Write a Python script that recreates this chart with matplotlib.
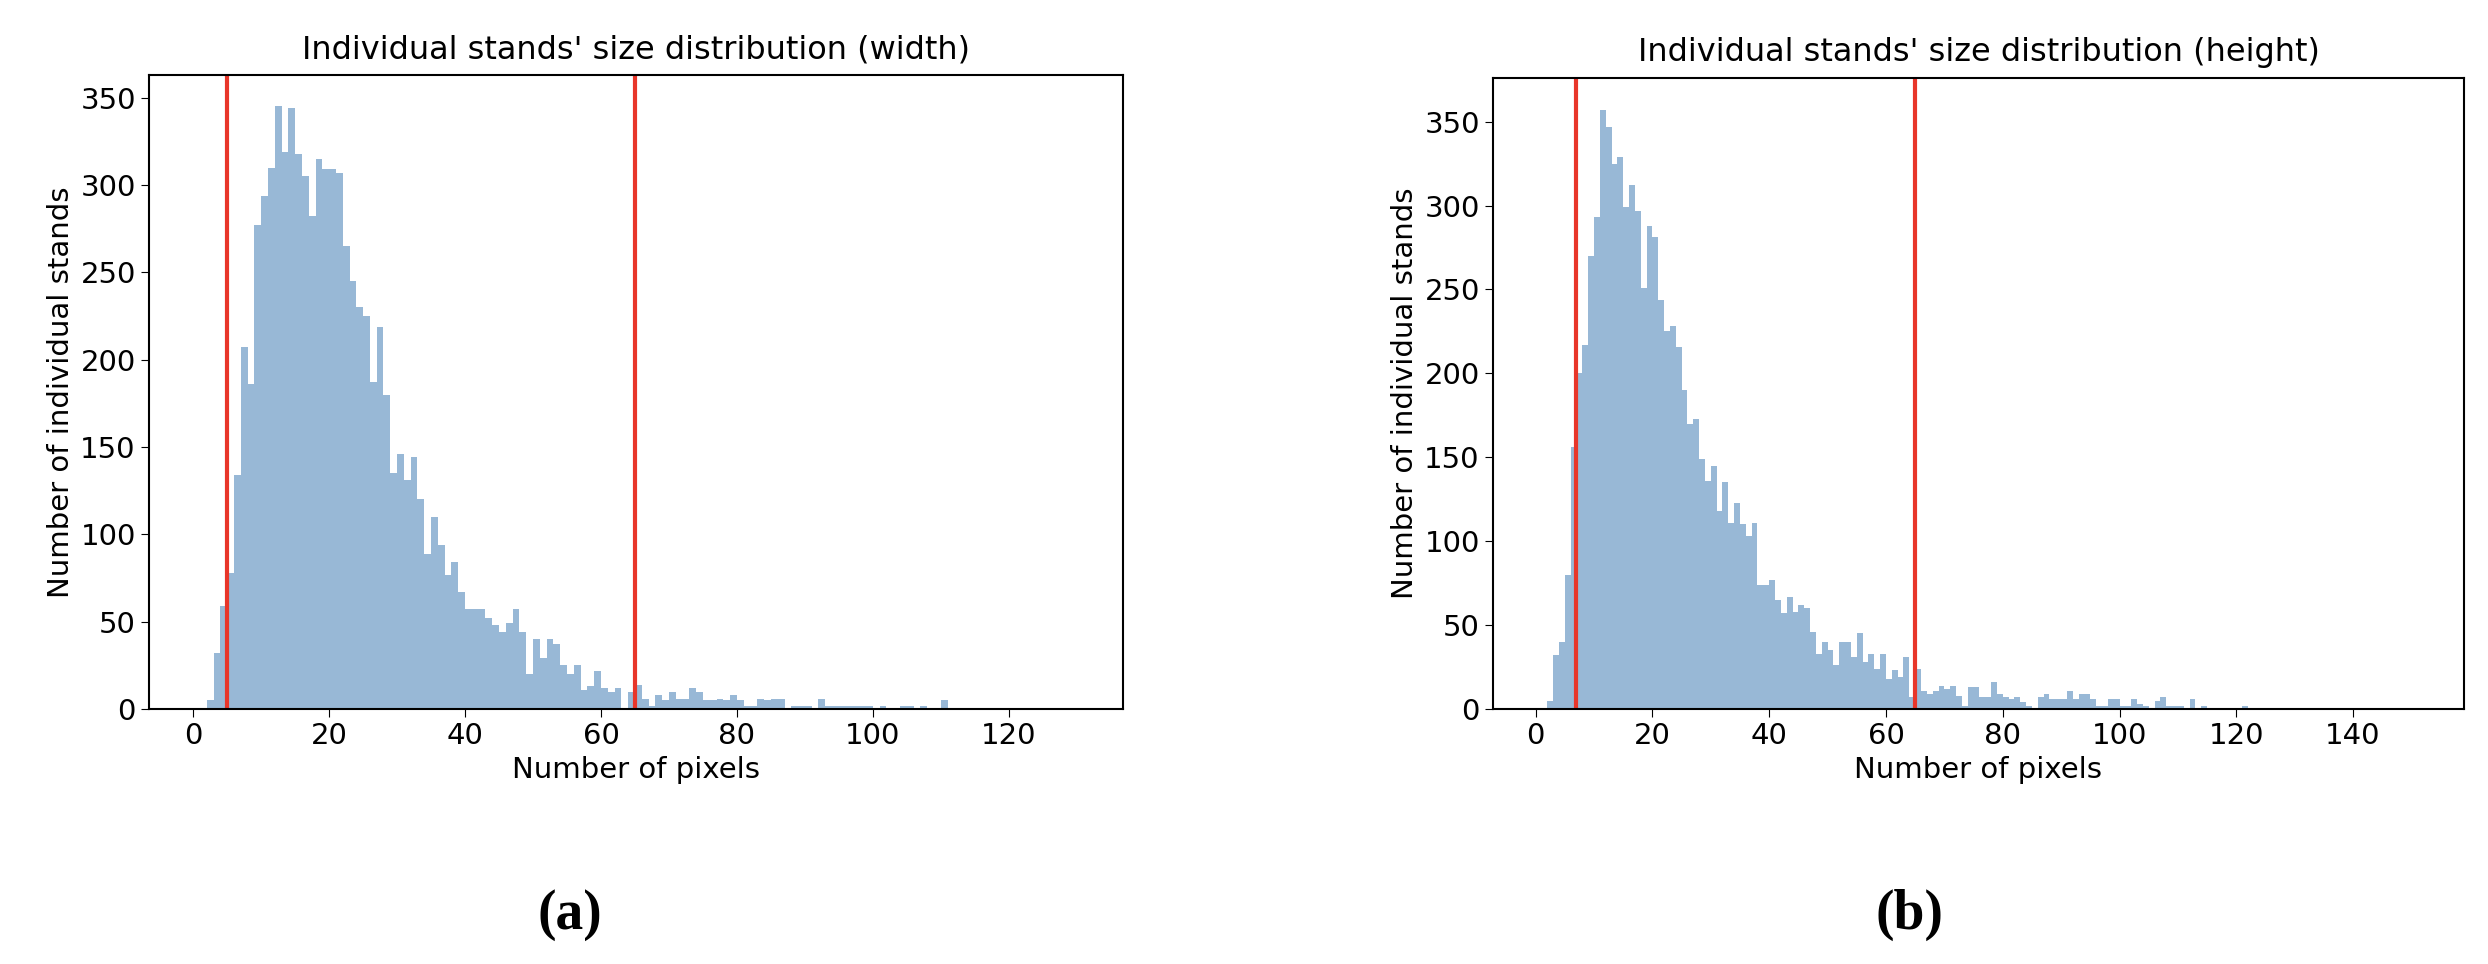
import matplotlib
matplotlib.use("Agg")
import matplotlib.pyplot as plt
import numpy as np

# width histogram: counts per 1-pixel bin starting at 2
width_start = 2
width_counts = [5, 32, 59, 78, 134, 207, 186, 277, 294, 310, 345, 319, 344, 318, 305, 282, 315, 309, 309, 307,
                265, 245, 230, 225, 187, 219, 180, 135, 146, 131, 144, 120, 89, 110, 94, 77, 84, 67, 57, 57,
                57, 52, 48, 44, 49, 57, 44, 20, 40, 29, 40, 37, 25, 20, 25, 11, 13, 22, 12, 10,
                12, 0, 10, 14, 6, 2, 8, 5, 10, 6, 6, 12, 10, 5, 5, 6, 5, 8, 5, 2,
                2, 6, 5, 6, 6, 0, 2, 2, 2, 0, 6, 2, 2, 2, 2, 2, 2, 2, 0, 2,
                0, 0, 2, 2, 0, 2, 0, 0, 5]
# height histogram: counts per 1-pixel bin starting at 2
height_start = 2
height_counts = [5, 32, 40, 80, 156, 200, 217, 270, 293, 357, 347, 325, 329, 299, 312, 297, 251, 288, 281, 244,
                 225, 228, 216, 190, 170, 173, 149, 136, 145, 118, 135, 111, 123, 110, 103, 111, 74, 74, 77, 65,
                 57, 67, 58, 62, 60, 46, 33, 40, 35, 26, 40, 40, 31, 45, 28, 33, 24, 33, 18, 23,
                 19, 31, 7, 24, 11, 9, 11, 14, 12, 14, 8, 2, 13, 13, 7, 7, 16, 9, 7, 6,
                 7, 4, 2, 0, 7, 9, 6, 6, 6, 11, 6, 9, 9, 6, 2, 2, 6, 6, 2, 2,
                 6, 3, 2, 0, 5, 7, 2, 2, 2, 0, 6, 0, 2, 0, 0, 0, 0, 0, 0, 2]
width_lines = [5, 65]
height_lines = [7, 65]

titles = ["Individual stands' size distribution (width)", "Individual stands' size distribution (height)"]
panel_labels = ["(a)", "(b)"]

fig = plt.figure(figsize=(24.88, 9.64), dpi=100)
W, H = 2488, 964
axes_px = [(149, 1123, 75, 709), (1493, 2464, 78, 709)]
xlims = [(-6.5, 136.8), (-7.3, 159)]
ylims = [(0, 363), (0, 376)]
data = [(width_start, width_counts, width_lines), (height_start, height_counts, height_lines)]
label_x = [570, 1910]
fs = 21

for i in range(2):
    l, r, t, b = axes_px[i]
    ax = fig.add_axes([l / W, 1 - b / H, (r - l) / W, (b - t) / H])
    start, counts, lines = data[i]
    centers = np.arange(start, start + len(counts)) + 0.5
    edges = np.arange(start, start + len(counts) + 1)
    ax.hist(centers, bins=edges, weights=counts, color='#98b8d6', edgecolor='none')
    for v in lines:
        ax.axvline(v, color='#e8362a', linewidth=3)
    ax.set_xlim(*xlims[i])
    ax.set_ylim(*ylims[i])
    ax.set_yticks(np.arange(0, 351, 50))
    ax.set_xticks(np.arange(0, xlims[i][1], 20))
    ax.tick_params(labelsize=fs, length=6)
    ax.set_title(titles[i], fontsize=fs + 2, pad=12)
    ax.set_xlabel("Number of pixels", fontsize=fs)
    ax.set_ylabel("Number of individual stands", fontsize=fs)
    for s in ax.spines.values():
        s.set_linewidth(1.5)
    fig.text(label_x[i] / W, 1 - 915 / H, panel_labels[i], fontsize=40, fontweight='bold',
             family='Liberation Serif', ha='center', va='center')

fig.savefig("out.png", dpi=100)
